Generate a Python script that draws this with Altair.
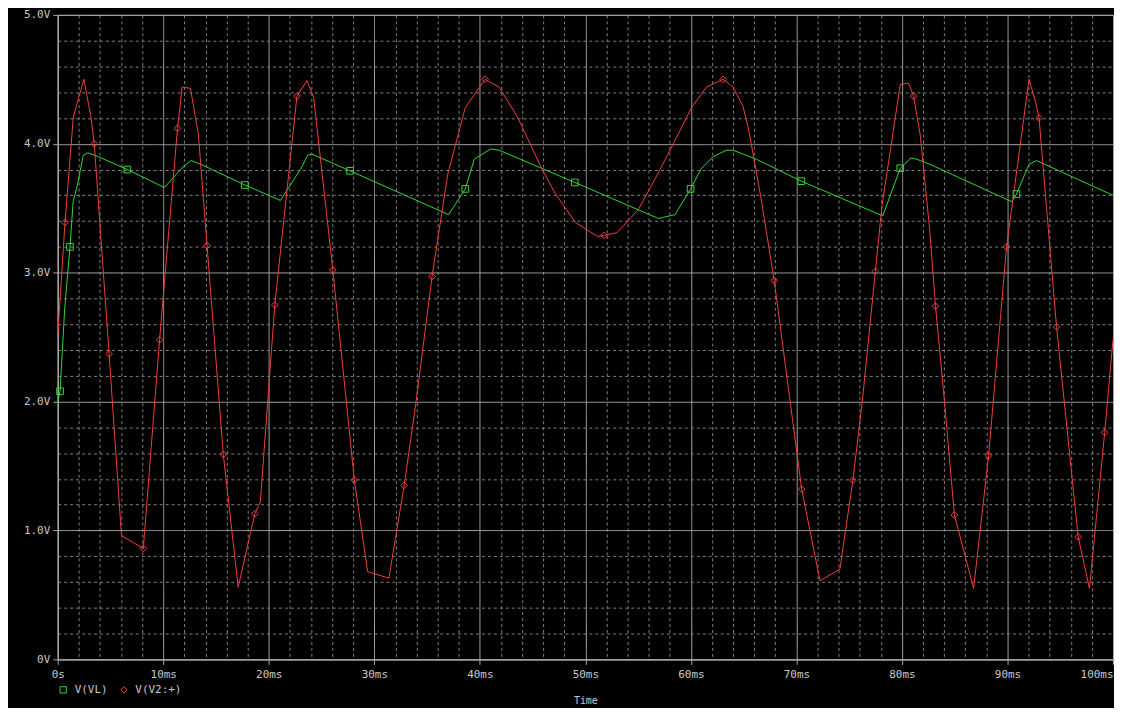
import altair as alt
import pandas as pd

# ---- data (time in ms, voltage in V) ----
vl_t = [0.00, 0.22, 0.66, 1.16, 1.46, 1.89, 2.42, 2.86, 3.84, 6.60, 10.10, 11.86, 12.64, 13.58,
        17.74, 21.10, 22.99, 23.68, 24.09, 27.70, 33.20, 37.04, 38.62, 39.47, 41.04, 41.82,
        49.00, 56.92, 58.49, 59.97, 61.01, 62.11, 63.36, 63.99, 66.20, 70.47, 78.18, 79.84,
        80.85, 81.40, 82.67, 90.41, 90.85, 92.04, 92.74, 100.0]
vl_v = [2.00, 2.08, 2.72, 3.20, 3.55, 3.69, 3.91, 3.93, 3.90, 3.80, 3.66, 3.82, 3.87, 3.84,
        3.68, 3.56, 3.80, 3.91, 3.92, 3.79, 3.59, 3.45, 3.65, 3.88, 3.96, 3.95,
        3.70, 3.42, 3.45, 3.65, 3.81, 3.90, 3.95, 3.95, 3.88, 3.71, 3.44, 3.81,
        3.89, 3.88, 3.84, 3.55, 3.61, 3.84, 3.87, 3.60]

v2_t = [0.00, 0.69, 1.48, 2.48, 3.14, 3.46, 4.87, 6.04, 8.11, 9.65, 11.35, 11.79, 12.58, 13.33,
        14.15, 15.69, 17.10, 18.68, 19.20, 20.57, 22.67, 23.62, 24.25, 26.07, 28.11, 29.37,
        31.38, 32.83, 33.96, 35.47, 36.95, 38.62, 40.50, 41.82, 43.55, 45.91, 47.17, 49.06,
        51.16, 51.79, 52.99, 55.03, 57.08, 58.33, 60.06, 61.48, 63.05, 63.99, 64.94, 65.50,
        66.64, 67.89, 70.50, 72.23, 74.12, 75.35, 76.23, 77.48, 78.11, 79.84, 80.63, 81.10,
        81.73, 82.61, 83.18, 84.03, 84.97, 86.79, 88.21, 89.91, 92.04, 92.67, 92.99, 94.65,
        96.70, 97.77, 99.21, 100.0]
v2_v = [2.51, 3.39, 4.21, 4.50, 4.21, 4.00, 2.37, 0.96, 0.86, 2.48, 4.12, 4.44, 4.43, 4.07,
        3.21, 1.59, 0.56, 1.13, 1.22, 2.75, 4.37, 4.49, 4.36, 3.02, 1.39, 0.68,
        0.63, 1.35, 2.00, 2.97, 3.76, 4.28, 4.50, 4.44, 4.21, 3.80, 3.61, 3.39,
        3.28, 3.29, 3.31, 3.49, 3.80, 4.00, 4.28, 4.44, 4.50, 4.44, 4.29, 4.10,
        3.58, 2.94, 1.32, 0.61, 0.70, 1.39, 1.99, 3.01, 3.52, 4.46, 4.47, 4.37,
        4.07, 3.35, 2.74, 2.00, 1.12, 0.55, 1.58, 3.20, 4.50, 4.32, 4.20, 2.58,
        0.95, 0.55, 1.76, 2.48]

vl_mark_t = [0.22, 1.16, 6.60, 17.74, 27.70, 38.62, 49.00, 59.97, 70.47, 79.84, 90.85]
vl_mark_v = [2.08, 3.20, 3.80, 3.68, 3.79, 3.65, 3.70, 3.65, 3.71, 3.81, 3.61]

v2_mark_t = [0.69, 3.46, 4.87, 8.11, 9.65, 11.35, 14.15, 15.69, 18.68, 20.57, 22.67, 26.07,
             28.11, 32.83, 35.47, 40.50, 51.79, 63.05, 67.89, 70.50, 75.35, 77.48, 81.10,
             83.18, 84.97, 88.21, 89.91, 92.99, 94.65, 96.70, 99.21]
v2_mark_v = [3.39, 4.00, 2.37, 0.86, 2.48, 4.12, 3.21, 1.59, 1.13, 2.75, 4.37, 3.02,
             1.39, 1.35, 2.97, 4.50, 3.29, 4.50, 2.94, 1.32, 1.39, 3.01, 4.37,
             2.74, 1.12, 1.58, 3.20, 4.20, 2.58, 0.95, 1.76]

series_names = ["V(VL)", "V(V2:+)"]
series_colors = ["#33d633", "#f04038"]
series_shapes = ["square", "diamond"]

x_tick_values = list(range(0, 101, 2))
y_tick_values = [round(i * 0.2, 1) for i in range(26)]

# ---- tables ----
lines = pd.concat([
    pd.DataFrame({"t": vl_t, "v": vl_v, "series": series_names[0]}),
    pd.DataFrame({"t": v2_t, "v": v2_v, "series": series_names[1]}),
], ignore_index=True)
markers = pd.concat([
    pd.DataFrame({"t": vl_mark_t, "v": vl_mark_v, "series": series_names[0]}),
    pd.DataFrame({"t": v2_mark_t, "v": v2_mark_v, "series": series_names[1]}),
], ignore_index=True)

FONT = "DejaVu Sans Mono"
TXT = "#c8c8c8"
MAJOR = "#a8a8a8"
MINOR = "#808080"

x_major = "datum.value % 10 === 0"
y_major = "abs(datum.value - round(datum.value)) < 0.001"

x_axis = alt.Axis(
    values=x_tick_values,
    title="Time",
    titleFont=FONT, titleFontSize=10, titleColor=TXT, titleFontWeight="normal",
    titlePadding=16,
    labelExpr="datum.value === 0 ? '0s' : (datum.value % 10 === 0 ? datum.value + 'ms' : '')",
    labelFont=FONT, labelFontSize=11, labelColor=TXT, labelPadding=4,
    labelOverlap=False, labelBound=False,
    labelAlign={"condition": {"test": "datum.value >= 100", "value": "right"}, "value": "center"},
    tickSize=5, tickColor=MAJOR,
    tickOpacity={"condition": {"test": x_major, "value": 1}, "value": 0},
    domainColor=MAJOR,
    grid=True,
    gridColor={"condition": {"test": x_major, "value": MAJOR}, "value": MINOR},
    gridDash={"condition": {"test": x_major, "value": [1, 0]}, "value": [3, 3]},
    gridWidth=1,
)
y_axis = alt.Axis(
    values=y_tick_values,
    title=None,
    labelExpr="abs(datum.value - round(datum.value)) < 0.001 ? (datum.value === 0 ? '0V' : format(datum.value, '.1f') + 'V') : ''",
    labelFont=FONT, labelFontSize=11, labelColor=TXT, labelPadding=3,
    labelOverlap=False, labelBound=False,
    tickSize=5, tickColor=MAJOR,
    tickOpacity={"condition": {"test": y_major, "value": 1}, "value": 0},
    domainColor=MAJOR,
    grid=True,
    gridColor={"condition": {"test": y_major, "value": MAJOR}, "value": MINOR},
    gridDash={"condition": {"test": y_major, "value": [1, 0]}, "value": [3, 3]},
    gridWidth=1,
)

x_enc = alt.X("t:Q", scale=alt.Scale(domain=[0, 100], nice=False, zero=False), axis=x_axis)
y_enc = alt.Y("v:Q", scale=alt.Scale(domain=[0, 5], nice=False), axis=y_axis)
color_scale = alt.Scale(domain=series_names, range=series_colors)

legend = alt.Legend(
    title=None, orient="none", legendX=0, legendY=673, direction="horizontal",
    labelFont=FONT, labelFontSize=11, labelColor=TXT, labelOffset=6,
    symbolSize=40, symbolStrokeWidth=1, columnPadding=10, padding=0,
)

line_layer = alt.Chart(lines).mark_line(strokeWidth=1).encode(
    x=x_enc, y=y_enc,
    color=alt.Color("series:N", scale=color_scale, legend=None),
)
marker_layer = alt.Chart(markers).mark_point(filled=False, size=45, strokeWidth=1, opacity=1).encode(
    x=x_enc, y=y_enc,
    color=alt.Color("series:N", scale=color_scale, legend=legend),
    shape=alt.Shape("series:N", scale=alt.Scale(domain=series_names, range=series_shapes), legend=legend),
)

chart = alt.layer(line_layer, marker_layer).resolve_legend(
    color="independent", shape="independent"
).properties(
    width=1061, height=648,
    autosize=alt.AutoSizeParams(type="none"),
    padding={"left": 50, "top": 5, "right": 1, "bottom": 47},
    background="#000000",
).configure_view(stroke=MAJOR, strokeWidth=1)

chart.save("out.html", embed_options={"renderer": "svg", "actions": False})
